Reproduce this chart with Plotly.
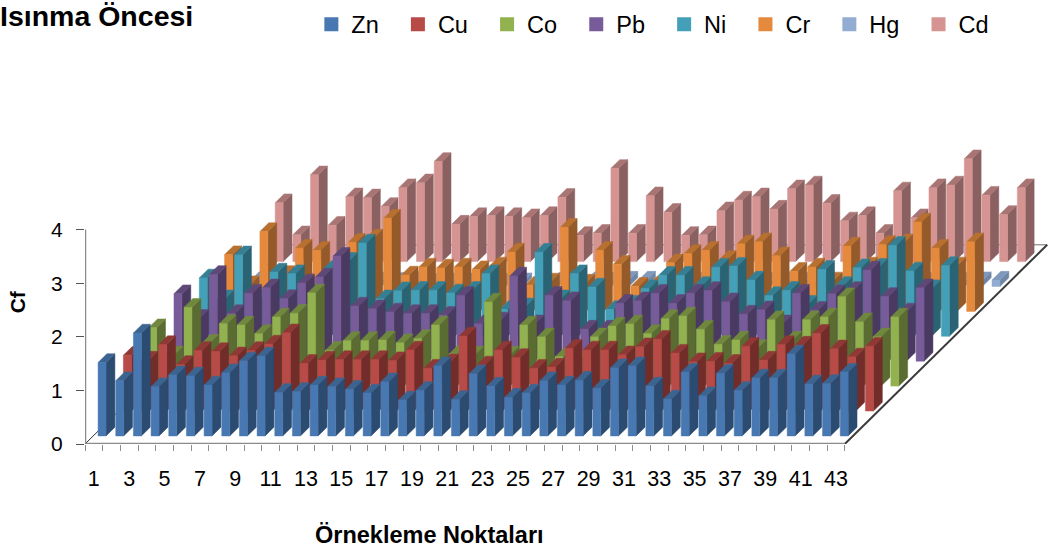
import plotly.graph_objects as go

# ── Values ────────────────────────────────────────────────────────────────
POINTS = list(range(1, 44))
TICK_POINTS = POINTS[::2]

ZN = [1.37, 1.03, 1.92, 0.92, 1.14, 1.12, 0.95, 1.18, 1.40, 1.49, 0.81, 0.83, 0.95, 0.92, 0.87,
      0.80, 1.01, 0.67, 0.85, 1.31, 0.68, 1.16, 0.93, 0.72, 0.80, 1.03, 0.95, 1.04, 0.89, 1.27,
      1.31, 0.93, 0.69, 1.19, 0.75, 1.17, 0.85, 1.08, 1.08, 1.53, 0.97, 0.98, 1.19]
CU = [1.04, 0.95, 1.24, 0.87, 1.13, 1.11, 1.03, 1.13, 1.25, 1.46, 0.89, 0.95, 0.96, 0.96, 0.96,
      0.94, 1.14, 0.80, 0.90, 1.40, 0.86, 1.14, 1.00, 0.80, 0.82, 1.17, 1.14, 1.14, 1.05, 1.20,
      1.34, 1.08, 0.92, 0.93, 0.89, 1.21, 0.95, 1.24, 1.23, 1.45, 1.16, 1.01, 1.21]
CO = [1.09, 0.58, 1.47, 0.80, 1.17, 1.14, 0.98, 1.29, 1.36, 1.74, 0.67, 0.85, 0.85, 0.86, 0.81,
      0.89, 1.14, 0.60, 0.58, 1.57, 0.58, 1.14, 0.92, 0.55, 0.50, 0.92, 1.12, 1.16, 0.98, 1.26,
      1.31, 1.06, 0.78, 0.86, 0.70, 1.24, 0.86, 1.24, 1.29, 1.67, 1.20, 0.92, 1.29]
PB = [1.26, 0.80, 1.62, 0.89, 1.27, 1.37, 1.17, 1.46, 1.57, 1.96, 1.03, 0.98, 0.92, 0.89, 0.89,
      0.86, 1.23, 0.70, 0.75, 1.59, 0.70, 1.23, 1.13, 0.60, 0.60, 1.08, 1.13, 1.27, 1.08, 1.27,
      1.32, 1.11, 0.88, 0.96, 0.70, 1.27, 0.95, 1.26, 1.32, 1.70, 1.21, 0.92, 1.37]
NI = [1.09, 0.70, 1.52, 0.70, 1.20, 1.17, 0.80, 1.25, 1.40, 1.74, 0.70, 0.85, 0.86, 0.86, 0.81,
      0.86, 1.17, 0.50, 0.55, 1.57, 0.70, 1.17, 0.92, 0.50, 0.60, 0.89, 1.14, 1.14, 0.95, 1.29,
      1.31, 1.05, 0.76, 0.86, 0.60, 1.25, 0.95, 1.28, 1.29, 1.70, 1.22, 0.89, 1.32]
CR = [1.06, 0.50, 1.49, 0.69, 1.18, 1.14, 0.80, 1.29, 1.37, 1.74, 0.68, 0.83, 0.81, 0.83, 0.78,
      0.85, 1.11, 0.49, 0.55, 1.57, 0.53, 1.14, 0.88, 0.47, 0.50, 0.91, 1.08, 1.14, 0.97, 1.26,
      1.30, 1.04, 0.75, 0.83, 0.57, 1.22, 0.85, 1.25, 1.28, 1.67, 1.18, 0.85, 1.30]
HG = [0.10, 0.08, 0.12, 0.09, 0.10, 0.10, 0.09, 0.11, 0.10, 0.12, 0.08, 0.09, 0.09, 0.10, 0.08,
      0.09, 0.10, 0.10, 0.12, 0.11, 0.10, 0.12, 0.12, 0.09, 0.09, 0.10, 0.10, 0.11, 0.09, 0.10,
      0.11, 0.10, 0.08, 0.09, 0.10, 0.11, 0.09, 0.10, 0.10, 0.12, 0.10, 0.11, 0.12]
CD = [1.10, 0.50, 1.62, 0.68, 1.21, 1.19, 1.03, 1.38, 1.47, 1.87, 0.70, 0.84, 0.86, 0.84, 0.82,
      0.86, 1.20, 0.49, 0.53, 1.74, 0.53, 1.23, 0.92, 0.49, 0.50, 0.95, 1.15, 1.21, 0.98, 1.36,
      1.43, 1.09, 0.76, 0.86, 0.53, 1.32, 0.82, 1.38, 1.43, 1.92, 1.24, 0.88, 1.38]

SERIES_NAMES = ["Zn", "Cu", "Co", "Pb", "Ni", "Cr", "Hg", "Cd"]
SERIES_VALUES = [ZN, CU, CO, PB, NI, CR, HG, CD]

# (front, side, top) shades, front series first
SHADES = [
    ("#4878b2", "#2b4b70", "#3b6491"),
    ("#b84a47", "#722d2b", "#8f3835"),
    ("#92b14f", "#5a6c32", "#70883e"),
    ("#775c99", "#4a3960", "#5e4878"),
    ("#44a0b9", "#2a6474", "#347f93"),
    ("#e58a3c", "#945a29", "#b87030"),
    ("#93acd2", "#6f86a6", "#7f98bc"),
    ("#d59492", "#8a6060", "#a87574"),
]

# ── Oblique projection of the Excel 3-D column chart, in axis units ───────
PX_PER_CAT = 17.67
PX_PER_VALUE = 53.6
STEP_X = 25.3 / PX_PER_CAT   # one series further back, along x
STEP_Y = 24.9 / PX_PER_VALUE  # ... and along y
BAR_WIDTH = 0.45
BAR_DEPTH = 0.35


def project(cat, depth, value):
    return cat + depth * STEP_X, value + depth * STEP_Y


def polygon(corners):
    xs, ys = zip(*[project(*c) for c in corners])
    return list(xs) + [xs[0], None], list(ys) + [ys[0], None]


def series_faces(series_idx, values):
    """Front, side and top polygons of one series, joined with None gaps."""
    d0 = series_idx + (1 - BAR_DEPTH) / 2
    d1 = d0 + BAR_DEPTH
    faces = {"front": ([], []), "side": ([], []), "top": ([], [])}
    for point, v in zip(POINTS, values):
        x0, x1 = point - BAR_WIDTH / 2, point + BAR_WIDTH / 2
        shapes = {
            "front": [(x0, d0, 0), (x1, d0, 0), (x1, d0, v), (x0, d0, v)],
            "side": [(x1, d0, 0), (x1, d1, 0), (x1, d1, v), (x1, d0, v)],
            "top": [(x0, d0, v), (x1, d0, v), (x1, d1, v), (x0, d1, v)],
        }
        for face, corners in shapes.items():
            xs, ys = polygon(corners)
            faces[face][0].extend(xs)
            faces[face][1].extend(ys)
    return faces


def edge(start, end, color, width, dash="solid"):
    xs, ys = zip(project(*start), project(*end))
    return go.Scatter(x=xs, y=ys, mode="lines", showlegend=False, hoverinfo="skip",
                      line=dict(color=color, width=width, dash=dash))


fig = go.Figure()

# Floor outline and value axis sit behind the bars
first, last, back = 0.5, 43.5, len(SERIES_NAMES)
fig.add_trace(edge((first, back, 0), (last, back, 0), "#6e6e6e", 1))
fig.add_trace(edge((first, 0, 0), (first, back, 0), "#333333", 1))
fig.add_trace(edge((last, 0, 0), (last, back, 0), "#3a3a3a", 2))
fig.add_trace(edge((first, 0, 0), (first, 0, 4), "#8c8c8c", 2.5))
fig.add_trace(edge((first, 0, 0), (last, 0, 0), "#8c8c8c", 2.5))

# Back series first so the front ones paint over them
for idx in reversed(range(len(SERIES_NAMES))):
    faces = series_faces(idx, SERIES_VALUES[idx])
    for face, color in zip(("side", "top", "front"), (SHADES[idx][1], SHADES[idx][2], SHADES[idx][0])):
        xs, ys = faces[face]
        fig.add_trace(go.Scatter(x=xs, y=ys, mode="lines", fill="toself", fillcolor=color,
                                 line=dict(color=color, width=0.5), showlegend=False,
                                 hoverinfo="skip"))

# Legend entries
for name, shade in zip(SERIES_NAMES, SHADES):
    fig.add_trace(go.Scatter(x=[None], y=[None], mode="markers", name=name + "\u00a0" * 4,
                             marker=dict(symbol="square", size=14, color=shade[0])))

fig.update_layout(
    width=1050,
    height=552,
    margin=dict(l=85, r=0, t=0, b=108, autoexpand=False),
    paper_bgcolor="white",
    plot_bgcolor="white",
    font=dict(family="Liberation Sans, Arial, sans-serif", size=21, color="black"),
    title=dict(text="<b>Isınma Öncesi</b>", x=0, xref="container", xanchor="left", y=0.971,
               yanchor="middle", font=dict(size=28.5)),
    legend=dict(orientation="h", x=0.247, xref="paper", y=0.945, yref="paper", yanchor="middle",
                font=dict(size=23.5), traceorder="normal", indentation=-12,
                itemclick=False, itemdoubleclick=False),
    xaxis=dict(range=[0.5, 0.5 + 965 / PX_PER_CAT], showgrid=False, zeroline=False, showline=False,
               automargin=False, tickmode="array", tickvals=TICK_POINTS,
               ticktext=[str(p) for p in TICK_POINTS], ticks="", tickangle=0,
               ticklabelstandoff=19, tickfont=dict(size=21.5),
               minor=dict(tickmode="array", tickvals=[p - 0.5 for p in POINTS + [44]],
                          ticks="outside", ticklen=6, tickcolor="#8c8c8c", tickwidth=1,
                          showgrid=False)),
    yaxis=dict(range=[0, 444 / PX_PER_VALUE], showgrid=False, zeroline=False, showline=False,
               automargin=False, tickmode="array", tickvals=[0, 1, 2, 3, 4], ticks="outside",
               ticklen=8, tickcolor="#555555", tickwidth=1, ticklabelstandoff=9),
    annotations=[
        dict(text="<b>Örnekleme Noktaları</b>", xref="paper", yref="paper", x=0.357, y=-0.205,
             xanchor="center", yanchor="middle", showarrow=False, font=dict(size=23.5)),
        dict(text="<b>Cf</b>", xref="paper", yref="paper", x=-0.069, y=0.32, xanchor="center",
             yanchor="middle", textangle=-90, showarrow=False, font=dict(size=21)),
    ],
)

# The page's default body margin would push the fixed-size figure 8px off
fig.write_html("out.html", config={"displayModeBar": False},
               post_script="document.body.style.margin = '0';")
